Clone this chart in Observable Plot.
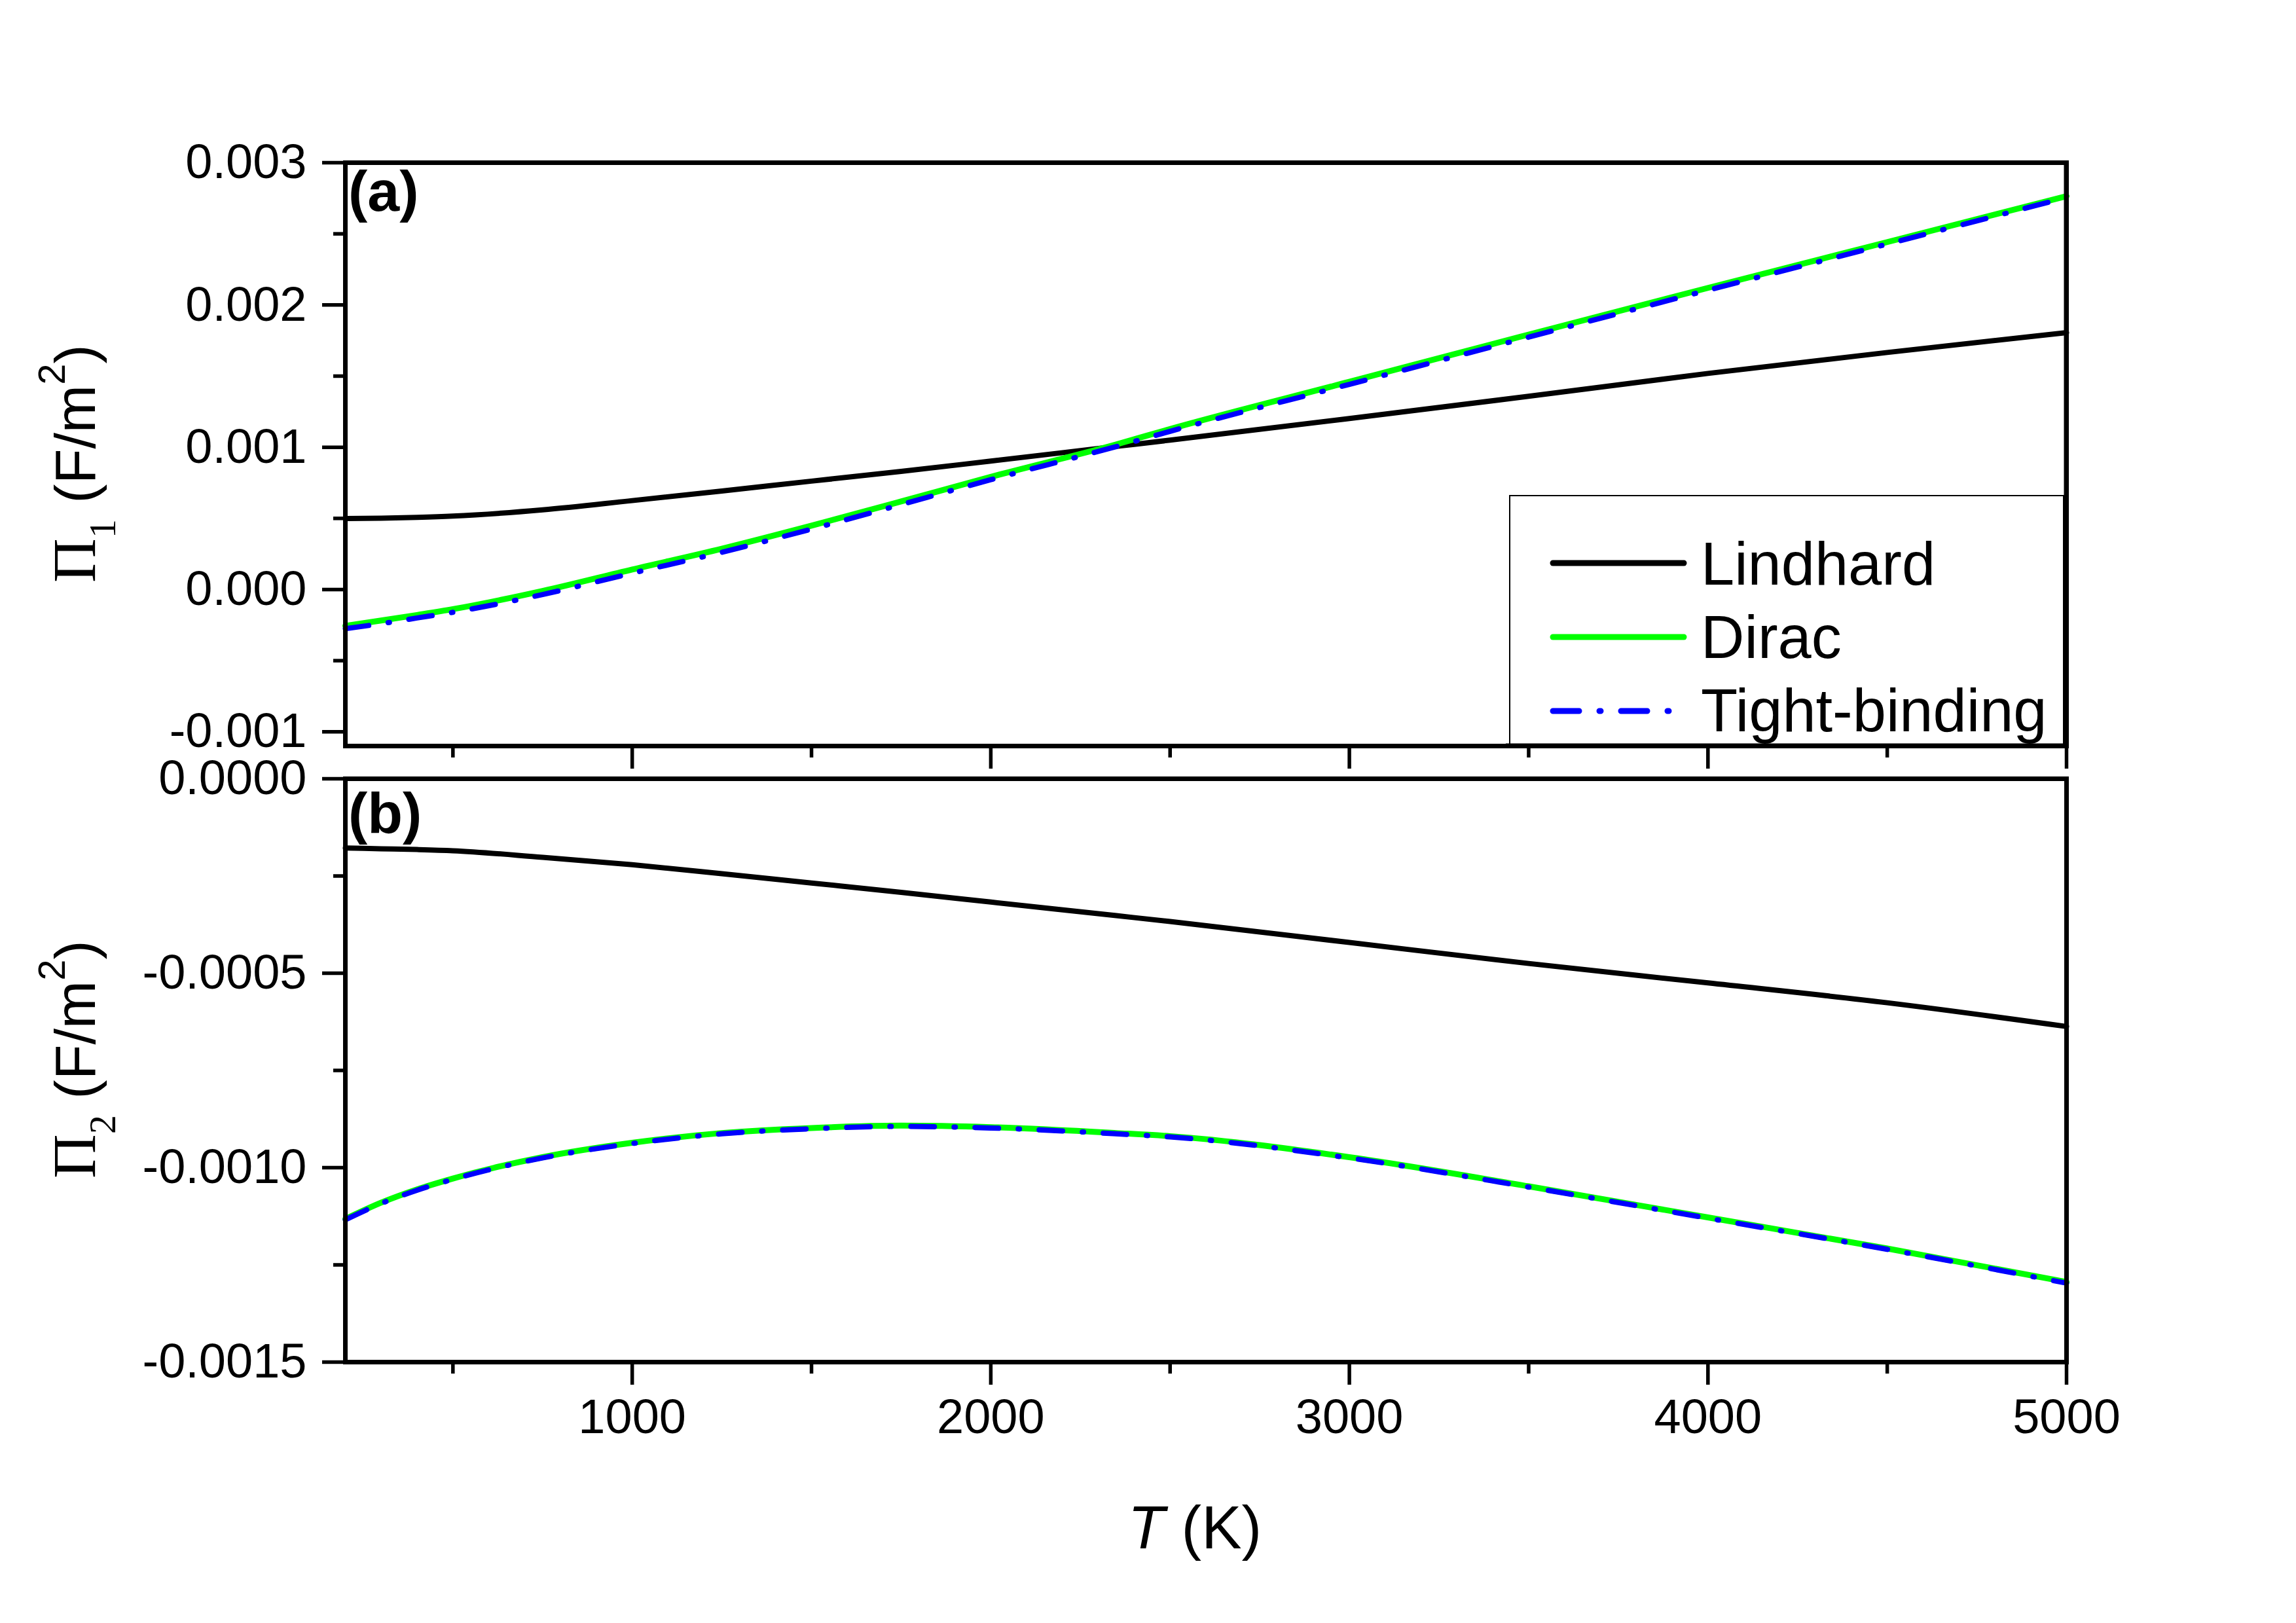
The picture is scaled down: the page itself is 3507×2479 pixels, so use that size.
<!DOCTYPE html>
<html><head><meta charset="utf-8">
<script src="https://cdn.jsdelivr.net/npm/d3@7"></script>
<script src="https://cdn.jsdelivr.net/npm/@observablehq/plot@0.6"></script>
<style>
html,body{margin:0;padding:0;background:#fff;}
#chart{position:relative;width:3507px;height:2479px;background:#fff;overflow:hidden;}
#chart svg{position:absolute;left:0;}
</style></head><body><div id="chart"></div>
<script>
// ---- data ----
const temperature = [200, 300, 400, 500, 750, 1000, 1250, 1500, 1750, 2000, 2350, 2500, 3000, 3500, 4000, 4500, 5000];
const pi1Lindhard = [0.000499, 0.000501, 0.000507, 0.000516, 0.000560, 0.000625, 0.000692, 0.000762, 0.000830, 0.000903, 0.001006, 0.001050, 0.001202, 0.001358, 0.001519, 0.001666, 0.001806];
const pi1Dirac    = [-0.000255, -0.000218, -0.000179, -0.000138, -0.000010, 0.000141, 0.000287, 0.000449, 0.000619, 0.000792, 0.001020, 0.001128, 0.001460, 0.001792, 0.002120, 0.002442, 0.002765];
const pi1Tight    = [-0.000275, -0.000240, -0.000200, -0.000160, -0.000035, 0.000115, 0.000262, 0.000425, 0.000597, 0.000772, 0.001005, 0.001112, 0.001442, 0.001774, 0.002104, 0.002428, 0.002755];
const pi2Lindhard = [-0.000178, -0.000180, -0.000182, -0.000185, -0.000202, -0.000221, -0.000244, -0.000268, -0.000292, -0.000317, -0.000352, -0.000367, -0.000421, -0.000475, -0.000525, -0.000576, -0.000637];
const pi2Dirac    = [-0.001132, -0.001090, -0.001056, -0.001028, -0.000973, -0.000936, -0.000911, -0.000898, -0.000892, -0.000896, -0.000911, -0.000919, -0.000973, -0.001048, -0.001128, -0.001208, -0.001294];
const pi2Tight    = [-0.001134, -0.001092, -0.001058, -0.001030, -0.000975, -0.000938, -0.000913, -0.000900, -0.000894, -0.000898, -0.000913, -0.000921, -0.000975, -0.001050, -0.001130, -0.001210, -0.001297];

const seriesNames  = ["Lindhard", "Dirac", "Tight-binding"];
const seriesColors = ["#000000", "#00ff00", "#0000ff"];
const seriesWidths = [8, 9, 8];
const seriesDash   = [null, null, "36,30,2,30"];

const xMajorTicks = [1000, 2000, 3000, 4000, 5000];
const xTickLabels = ["1000", "2000", "3000", "4000", "5000"];
const xMinorTicks = [500, 1500, 2500, 3500, 4500];
const yMajorTicksA = [-0.001, 0, 0.001, 0.002, 0.003];
const yTickLabelsA = ["-0.001", "0.000", "0.001", "0.002", "0.003"];
const yMinorTicksA = [-0.0005, 0.0005, 0.0015, 0.0025];
const yMajorTicksB = [0, -0.0005, -0.001, -0.0015];
const yTickLabelsB = ["0.0000", "-0.0005", "-0.0010", "-0.0015"];
const yMinorTicksB = [-0.00025, -0.00075, -0.00125];

// ---- layout ----
const W = 3507;
const FONT = "'Liberation Sans', Arial, Helvetica, sans-serif";
const SERIF = "'Liberation Serif', 'Times New Roman', serif";
const left = 527, right = W - 3156;
const TICKFONT = 74;

function rows(arrays) {
  return seriesNames.flatMap((s, i) => temperature.map((t, j) => ({T: t, v: arrays[i][j], s})));
}
const dataA = rows([pi1Lindhard, pi1Dirac, pi1Tight]);
const dataB = rows([pi2Lindhard, pi2Dirac, pi2Tight]);

function lineMarks(data) {
  return seriesNames.map((s, i) => Plot.line(data.filter(d => d.s === s), {
    x: "T", y: "v", stroke: seriesColors[i], strokeWidth: seriesWidths[i],
    strokeDasharray: seriesDash[i] || undefined, curve: "monotone-x"
  }));
}

const baseStyle = {fontFamily: FONT, fontSize: TICKFONT + "px", background: "transparent", overflow: "visible", color: "black"};
const tickW = 5.5;

// Panel (a)
const topA = 0, hA = 1185;
const plotA = Plot.plot({
  width: W, height: hA,
  marginLeft: left, marginRight: right, marginTop: 248 - topA, marginBottom: hA - (1139 - topA),
  x: {domain: [200, 5000]},
  y: {domain: [-0.0011, 0.003]},
  style: baseStyle,
  marks: [
    ...lineMarks(dataA),
    Plot.axisY({ticks: yMajorTicksA, tickSize: 35, tickPadding: 24, strokeWidth: tickW, fontSize: TICKFONT,
      tickFormat: d => yTickLabelsA[yMajorTicksA.indexOf(d)], label: null}),
    Plot.axisY({ticks: yMinorTicksA, tickSize: 18, strokeWidth: tickW, tickFormat: () => "", label: null}),
    Plot.axisX({ticks: xMajorTicks, tickSize: 35, strokeWidth: tickW, tickFormat: () => "", label: null}),
    Plot.axisX({ticks: xMinorTicks, tickSize: 18, strokeWidth: tickW, tickFormat: () => "", label: null}),
    Plot.frame({stroke: "black", strokeWidth: 7})
  ]
});
plotA.style.top = topA + "px";

// Panel (b)
const topB = 1100, hB = 2479 - topB;
const plotB = Plot.plot({
  width: W, height: hB,
  marginLeft: left, marginRight: right, marginTop: 1189 - topB, marginBottom: hB - (2080 - topB),
  x: {domain: [200, 5000]},
  y: {domain: [-0.0015, 0]},
  style: baseStyle,
  marks: [
    ...lineMarks(dataB),
    Plot.axisY({ticks: yMajorTicksB, tickSize: 35, tickPadding: 24, strokeWidth: tickW, fontSize: TICKFONT,
      tickFormat: d => yTickLabelsB[yMajorTicksB.indexOf(d)], label: null}),
    Plot.axisY({ticks: yMinorTicksB, tickSize: 18, strokeWidth: tickW, tickFormat: () => "", label: null}),
    Plot.axisX({ticks: xMajorTicks, tickSize: 35, tickPadding: 21, strokeWidth: tickW, fontSize: TICKFONT,
      tickFormat: d => xTickLabels[xMajorTicks.indexOf(d)], label: null}),
    Plot.axisX({ticks: xMinorTicks, tickSize: 18, strokeWidth: tickW, tickFormat: () => "", label: null}),
    Plot.frame({stroke: "black", strokeWidth: 7})
  ]
});
plotB.style.top = topB + "px";

const chart = document.getElementById("chart");
chart.appendChild(plotA);
chart.appendChild(plotB);

// ---- annotations ----
function yTitle(svg, x, y, sub) {
  const t = d3.select(svg).append("text")
    .attr("transform", `translate(${x},${y}) rotate(-90)`)
    .attr("text-anchor", "start")
    .attr("fill", "black").style("font-family", FONT).style("font-size", "88px");
  t.append("tspan").style("font-family", SERIF).style("font-size", "94px").text("Π");
  t.append("tspan").style("font-family", SERIF).style("font-size", "58px").attr("dy", 31).text(sub);
  t.append("tspan").attr("dy", -31).text(" (F/m");
  t.append("tspan").style("font-size", "58px").attr("dy", -46).text("2");
  t.append("tspan").attr("dy", 46).text(")");
}
yTitle(plotA, 145, 890 - topA, "1");
yTitle(plotB, 145, 1800 - topB, "2");

function panelLabel(svg, y, s) {
  d3.select(svg).append("text").attr("x", 532).attr("y", y).attr("text-anchor", "start")
    .style("font-family", FONT).style("font-size", "88px").style("font-weight", "bold")
    .attr("fill", "black").text(s);
}
panelLabel(plotA, 322 - topA, "(a)");
panelLabel(plotB, 1272 - topB, "(b)");

// x title
const xt = d3.select(plotB).append("text").attr("x", 1825).attr("y", 2365 - topB)
  .attr("text-anchor", "middle").attr("fill", "black")
  .style("font-family", FONT).style("font-size", "92px");
xt.append("tspan").style("font-style", "italic").text("T");
xt.append("tspan").text(" (K)");

// legend
const lg = d3.select(plotA).append("g");
lg.append("rect").attr("x", 2306).attr("y", 757 - topA).attr("width", 3152 - 2306).attr("height", 1139 - 757)
  .attr("fill", "white").attr("stroke", "black").attr("stroke-width", 2);
const lineYs = [860, 973, 1086], textYs = [893, 1005, 1117];
seriesNames.forEach((s, i) => {
  lg.append("line").attr("x1", 2372).attr("x2", 2572).attr("y1", lineYs[i] - topA).attr("y2", lineYs[i] - topA)
    .attr("stroke", seriesColors[i]).attr("stroke-width", 9).attr("stroke-linecap", "round")
    .attr("stroke-dasharray", seriesDash[i] ? "40,31,2,31" : null);
  lg.append("text").attr("x", 2598).attr("y", textYs[i] - topA).attr("text-anchor", "start").attr("fill", "black")
    .style("font-family", FONT).style("font-size", "92px").text(s);
});
// frame edges over the legend box
lg.append("line").attr("x1", 3156).attr("x2", 3156).attr("y1", 248).attr("y2", 1139)
  .attr("stroke", "black").attr("stroke-width", 7);
lg.append("line").attr("x1", 2300).attr("x2", 3159).attr("y1", 1139).attr("y2", 1139)
  .attr("stroke", "black").attr("stroke-width", 7);
</script></body></html>
